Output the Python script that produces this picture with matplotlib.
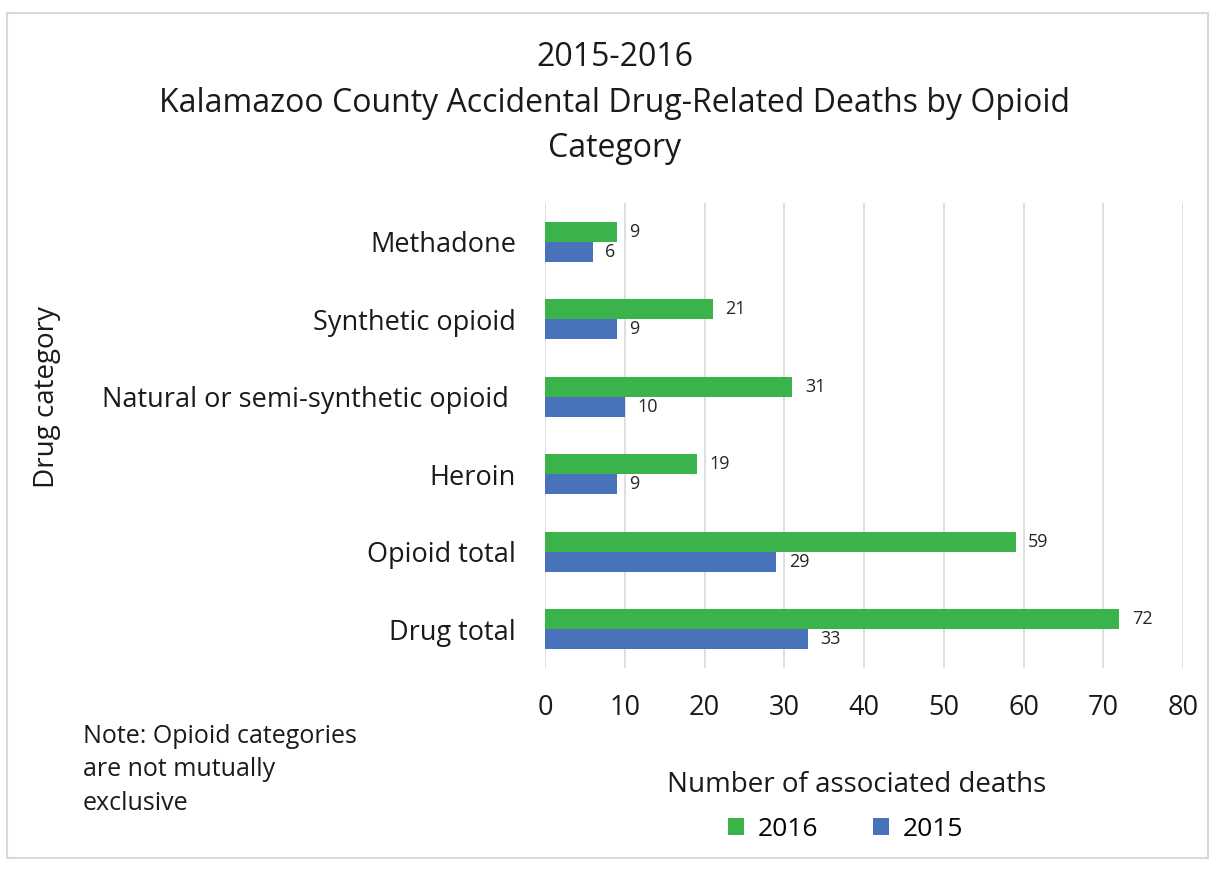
import matplotlib.pyplot as plt
import numpy as np
from matplotlib.patches import Rectangle

plt.rcParams["font.family"] = ["Open Sans", "DejaVu Sans"]

# data, listed bottom to top as drawn
categories = ["Drug total", "Opioid total", "Heroin",
              "Natural or semi-synthetic opioid ", "Synthetic opioid", "Methadone"]
deaths_2016 = [72, 59, 19, 31, 21, 9]
deaths_2015 = [33, 29, 9, 10, 9, 6]
xticks = [0, 10, 20, 30, 40, 50, 60, 70, 80]

green = "#3AB34A"
blue = "#4873BA"

fig = plt.figure(figsize=(12.15, 8.71), dpi=100)
ax = fig.add_axes([0.4486, 0.2331, 0.5251, 0.5338])

y = np.arange(len(categories))
h = 0.26
b16 = ax.barh(y + h / 2, deaths_2016, height=h, color=green, label="2016")
b15 = ax.barh(y - h / 2, deaths_2015, height=h, color=blue, label="2015")

for bars in (b16, b15):
    ax.bar_label(bars, padding=9, fontsize=13, color="#262626")

ax.set_xlim(0, 80)
ax.set_ylim(-0.5, len(categories) - 0.5)
ax.set_xticks(xticks)
ax.set_yticks(y)
ax.set_yticklabels(categories)
ax.tick_params(axis="both", length=0, labelsize=19.5, colors="#1a1a1a")
ax.tick_params(axis="x", pad=19)
ax.tick_params(axis="y", pad=21)
ax.grid(axis="x", color="#d9d9d9", linewidth=1.2)
ax.set_axisbelow(True)
for s in ax.spines.values():
    s.set_visible(False)

fig.text(0.506, 0.8817, "2015-2016\nKalamazoo County Accidental Drug-Related Deaths by Opioid\nCategory",
         ha="center", va="center", fontsize=23, linespacing=1.5, color="#1a1a1a")
fig.text(0.0387, 0.544, "Drug category", rotation=90, ha="center", va="center",
         fontsize=20, color="#1a1a1a")
fig.text(0.705, 0.0987, "Number of associated deaths", ha="center", va="center",
         fontsize=20, color="#1a1a1a")
fig.text(0.068, 0.116, "Note: Opioid categories\nare not mutually\nexclusive", ha="left", va="center",
         fontsize=18, linespacing=1.45, color="#1a1a1a")

fig.legend(handles=[b16, b15], loc="center", bbox_to_anchor=(0.696, 0.048), ncol=2,
           frameon=False, fontsize=19, handlelength=0.6, handleheight=0.6,
           columnspacing=2.1, handletextpad=0.5)

fig.patches.append(Rectangle((0.006, 0.015), 0.988, 0.97, transform=fig.transFigure,
                             fill=False, edgecolor="#d9d9d9", linewidth=1.5))

fig.savefig("out.png", dpi=100)
